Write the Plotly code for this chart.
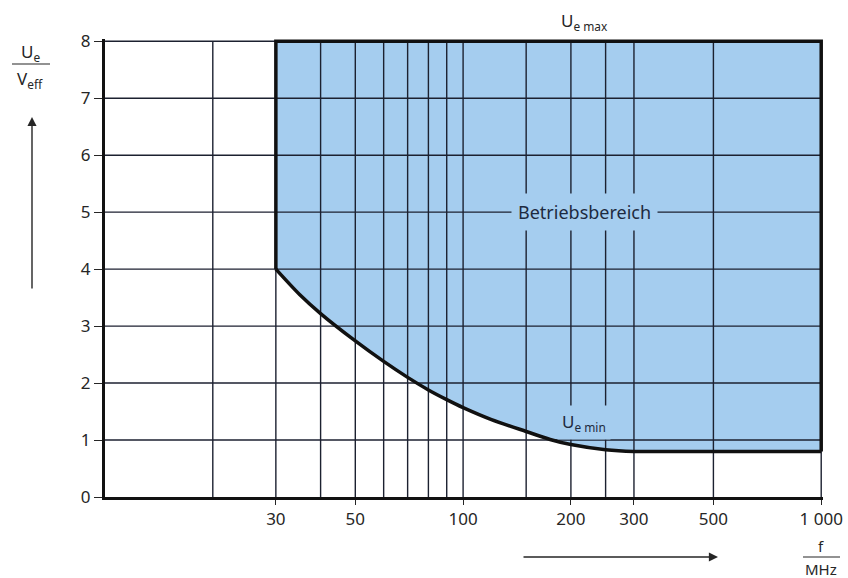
import math
import plotly.graph_objects as go

# ---- data ----
grid_freqs = [20, 30, 40, 50, 60, 70, 80, 90, 100, 150, 200, 250, 300, 500, 1000]
grid_volts = [1, 2, 3, 4, 5, 6, 7, 8]
x_tick_vals = [30, 50, 100, 200, 300, 500, 1000]
x_tick_text = ["30", "50", "100", "200", "300", "500", "1 000"]
y_tick_vals = [0, 1, 2, 3, 4, 5, 6, 7, 8]

umin_freq = [30, 35, 40, 50, 60, 70, 80, 90, 100, 120, 150, 175, 200, 250, 300, 400, 1000]
umin_volt = [4.0, 3.55, 3.22, 2.74, 2.38, 2.10, 1.88, 1.71, 1.57, 1.36, 1.15, 1.01, 0.92, 0.83, 0.80, 0.80, 0.80]
umax_volt = 8.0
f_low, f_high = 30, 1000
label_freq = 218

FILL = "#a5cdef"
GRID = "#1c2130"
INK = "#262626"
FONT = "Noto Sans"

fig = go.Figure()

# shaded operating region
poly_x = umin_freq + [f_high, f_low, f_low]
poly_y = umin_volt + [umax_volt, umax_volt, umin_volt[0]]
fig.add_trace(go.Scatter(x=poly_x, y=poly_y, mode="lines", fill="toself",
                         fillcolor=FILL, line=dict(width=0), hoverinfo="skip",
                         showlegend=False))

# grid lines drawn above the fill
gx, gy = [], []
for f in grid_freqs:
    gx += [f, f, None]
    gy += [0, umax_volt, None]
for u in grid_volts:
    gx += [10, f_high, None]
    gy += [u, u, None]
fig.add_trace(go.Scatter(x=gx, y=gy, mode="lines", line=dict(color=GRID, width=1.4),
                         hoverinfo="skip", showlegend=False))

# boundary: U_e min curve
fig.add_trace(go.Scatter(x=umin_freq, y=umin_volt, mode="lines",
                         line=dict(color="#111", width=3.5, shape="spline", smoothing=0.8),
                         hoverinfo="skip", showlegend=False))
# boundary: rectangle edges
fig.add_trace(go.Scatter(x=[f_high, f_high, f_low, f_low],
                         y=[umin_volt[-1], umax_volt, umax_volt, umin_volt[0]],
                         mode="lines", line=dict(color="#111", width=3.5),
                         hoverinfo="skip", showlegend=False))

L, R, T, B = 105, 25, 39, 81
W, H = 848, 578
pw, ph = W - L - R, H - T - B


def px(xp):
    return (xp - L) / pw


def py(yp):
    return (H - B - yp) / ph


def note(text, xp, yp, size=17, color=INK):
    return dict(x=px(xp), y=py(yp), xref="paper", yref="paper", text=text,
                xanchor="center", yanchor="middle", showarrow=False,
                font=dict(size=size, color=color, family=FONT))


annotations = [
    dict(x=math.log10(label_freq), y=py(22), xref="x", yref="paper",
         xanchor="center", yanchor="middle",
         text="U<sub>e max</sub>", showarrow=False, font=dict(size=17, color=INK, family=FONT)),
    dict(x=math.log10(label_freq), y=1.3, xref="x", yref="y",
         text="U<sub>e min</sub>", showarrow=False, bgcolor=FILL, borderpad=4,
         font=dict(size=17, color="#1d2a40", family=FONT)),
    dict(x=math.log10(label_freq), y=5, xref="x", yref="y",
         text="Betriebsbereich", showarrow=False, bgcolor=FILL, borderpad=6,
         font=dict(size=18, color="#1d2a40", family=FONT)),
    # y-axis label
    note("U<sub>e</sub>", 30, 53),
    note("V<sub>eff</sub>", 30, 79),
    # x-axis label
    note("f", 821, 546, size=15),
    note("MHz", 821, 569, size=15),
    # arrows
    dict(x=px(32), y=py(117), xref="paper", yref="paper", ax=0, ay=173,
         showarrow=True, arrowhead=2, arrowsize=1.3, arrowwidth=1.4, arrowcolor=INK, text=""),
    dict(x=px(718), y=py(557), xref="paper", yref="paper", ax=-196, ay=0,
         showarrow=True, arrowhead=2, arrowsize=1.3, arrowwidth=1.4, arrowcolor=INK, text=""),
]

shapes = [
    dict(type="line", xref="paper", yref="paper", x0=px(12), x1=px(50), y0=py(64), y1=py(64),
         line=dict(color=INK, width=1.2)),
    dict(type="line", xref="paper", yref="paper", x0=px(803), x1=px(840), y0=py(557), y1=py(557),
         line=dict(color=INK, width=1.2)),
]

fig.update_layout(
    width=W, height=H, autosize=False,
    margin=dict(l=L, r=R, t=T, b=B),
    paper_bgcolor="white", plot_bgcolor="white",
    showlegend=False,
    annotations=annotations, shapes=shapes,
    font=dict(family=FONT, color=INK),
    xaxis=dict(type="log", range=[1, math.log10(f_high) + 0.005], showgrid=False, zeroline=False,
               tickmode="array", tickvals=x_tick_vals, ticktext=x_tick_text,
               ticks="outside", ticklen=5, tickwidth=1.4, tickcolor=INK,
               showline=True, linecolor="#111", linewidth=3, automargin=False,
               tickfont=dict(size=17, color=INK, family=FONT)),
    yaxis=dict(range=[0, 8.04], showgrid=False, zeroline=False,
               tickmode="array", tickvals=y_tick_vals,
               ticks="outside", ticklen=8, tickwidth=1.4, tickcolor=INK,
               showline=True, linecolor="#111", linewidth=3, automargin=False,
               tickfont=dict(size=17, color=INK, family=FONT)),
)

fig.write_html("out.html",
               config={"displayModeBar": False, "responsive": False},
               post_script="document.body.style.margin='0';document.body.style.overflow='hidden';")
